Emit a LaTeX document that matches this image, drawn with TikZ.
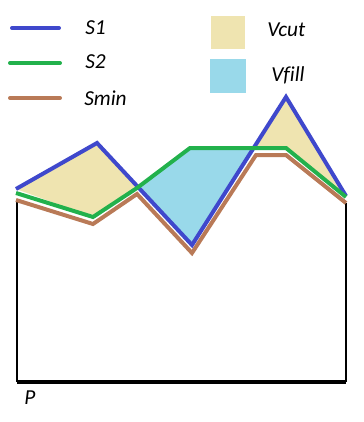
\documentclass[tikz,border=0pt]{standalone}
\usepackage{fontspec}
\setmainfont[Ligatures=NoCommon]{Carlito}
\usepackage{xcolor}
\usepackage{tikz}
\definecolor{sone}{RGB}{63,72,204}
\definecolor{stwo}{RGB}{34,177,76}
\definecolor{smin}{RGB}{185,122,87}
\definecolor{cutc}{RGB}{239,228,176}
\definecolor{fillc}{RGB}{153,217,234}
\tikzset{curve/.style={line width=3pt,line join=miter},
         lab/.style={font=\itshape\fontsize{16}{18}\selectfont,anchor=west,inner sep=0pt}}

\begin{document}
\begin{tikzpicture}[x=0.75pt,y=-0.75pt]
    \useasboundingbox (0,0) rectangle (364,422);
    % points of S1
    \coordinate (a1) at (16,189);
    \coordinate (a2) at (97,143);
    \coordinate (a3) at (192,245);
    \coordinate (a4) at (286,97);
    \coordinate (a5) at (346,196);
    % points of S2
    \coordinate (b1) at (16,193);
    \coordinate (b2) at (93,217);
    \coordinate (b3) at (137,188);
    \coordinate (b4) at (190,148);
    \coordinate (b5) at (286,148);
    \coordinate (b6) at (346,197);
    % points of Smin
    \coordinate (c1) at (16,200);
    \coordinate (c2) at (93,224);
    \coordinate (c3) at (137,194);
    \coordinate (c4) at (192,253);
    \coordinate (c5) at (256,155);
    \coordinate (c6) at (286,155);
    \coordinate (c7) at (346,203);
    % crossings
    \coordinate (x1) at (137,187);
    \coordinate (x2) at (254,148);
    % base
    \coordinate (p1) at (17,200);
    \coordinate (p2) at (17,382);
    \coordinate (p3) at (346,382);
    \coordinate (p4) at (346,203);

    \fill[cutc] (a1) -- (a2) -- (x1) -- (b2) -- cycle;
    \fill[cutc] (x2) -- (a4) -- (a5) -- (b5) -- cycle;
    \fill[fillc] (x1) -- (b4) -- (x2) -- (a3) -- cycle;

    \draw[line width=0.8pt] (p1) -- (p2);
    \draw[line width=0.8pt] (p4) -- (p3);
    \draw[line width=3.2pt] (p2) -- (p3);

    \draw[curve,smin] (c1) -- (c2) -- (c3) -- (c4) -- (c5) -- (c6) -- (c7);
    \draw[curve,sone] (a1) -- (a2) -- (a3) -- (a4) -- (a5);
    \draw[curve,stwo] (b1) -- (b2) -- (b3) -- (b4) -- (b5) -- (b6);

    \node[lab] (p) at (24,398) {P};

    % legend
    \coordinate (l1) at (12,28);
    \coordinate (r1) at (59,28);
    \coordinate (l2) at (10,63);
    \coordinate (r2) at (60,63);
    \coordinate (l3) at (10,98);
    \coordinate (r3) at (60,98);
    \draw[line width=3pt,line cap=round,sone] (l1) -- (r1);
    \draw[line width=3pt,line cap=round,stwo] (l2) -- (r2);
    \draw[line width=3pt,line cap=round,smin] (l3) -- (r3);
    \node[lab] (s1) at (85,28) {S1};
    \node[lab] (s2) at (85,62) {S2};
    \node[lab] (sm) at (84,98) {Smin};

    \node[fill=cutc,minimum width=25.5pt,minimum height=24.75pt,inner sep=0pt] (vc) at (228,32.5) {};
    \node[fill=fillc,minimum width=27pt,minimum height=25.5pt,inner sep=0pt] (vf) at (228,76) {};
    \node[lab] (vct) at (267,30) {Vcut};
    \node[lab] (vfl) at (271,75) {Vfill};
\end{tikzpicture}
\end{document}
